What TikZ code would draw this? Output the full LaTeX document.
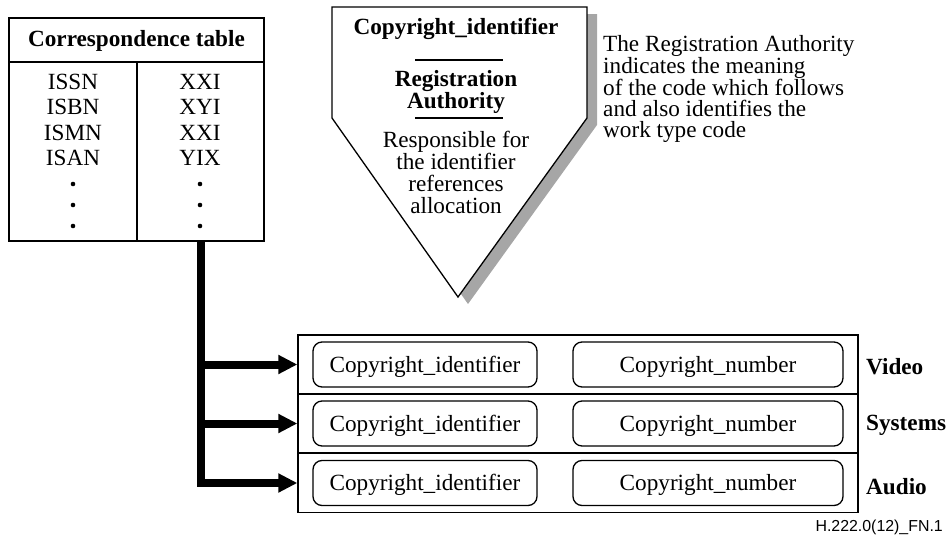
\documentclass[tikz,border=0pt]{standalone}
\usepackage{fontspec}
\setmainfont{Liberation Serif}
\newfontfamily\figsans{Liberation Sans}
\usetikzlibrary{arrows.meta,positioning}

\definecolor{shadowgray}{RGB}{166,166,166}

\tikzset{
  frame/.style={draw, line width=1.3pt},
  txt/.style={font=\fontsize{23.2}{21}\selectfont, inner sep=0pt},
  boldtxt/.style={txt, font=\fontsize{23.2}{21}\selectfont\bfseries},
  rowbox/.style={frame, minimum width=560pt, minimum height=59pt, inner sep=0pt},
  field/.style={frame, txt, rounded corners=9pt, minimum height=45pt, text height=18pt, text depth=3pt},
  bus/.style={line width=8pt, -{Triangle[length=19pt, width=18pt]}},
}

\begin{document}
\begin{tikzpicture}[x=1pt, y=-1pt]
  \useasboundingbox (0,0) rectangle (951,538);

  % correspondence table
  \draw[frame] (9,18) rectangle (264,241);
  \draw[frame] (9,62) -- (264,62);
  \draw[frame] (137,62) -- (137,241);
  \node[boldtxt] (tabhead) at (136.5,41) {Correspondence table};
  \foreach \code/\val [count=\i] in {ISSN/XXI, ISBN/XYI, ISMN/XXI, ISAN/YIX} {
    \node[txt] (code\i) at (73, 56+25.5*\i) {\code};
    \node[txt] (val\i) at (200, 56+25.5*\i) {\val};
  }
  \foreach \y in {184,205,226} {
    \fill (73,\y) circle (2.3pt);
    \fill (200,\y) circle (2.3pt);
  }
  \coordinate (tabfoot) at (201,241);

  % registration authority pentagon
  \fill[shadowgray] (342,14) -- (597,14) -- (597,125) -- (468,304) -- (342,125) -- cycle;
  \draw[frame, fill=white] (332,7) -- (587,7) -- (587,118) -- (458,297) -- (332,118) -- cycle;
  \node[boldtxt] (cid) at (456,29) {Copyright\_identifier};
  \draw[frame] (415,60) -- (503,60);
  \node[boldtxt, align=center] (regauth) at (456,92) {Registration\\Authority};
  \draw[frame] (415,118) -- (503,118);
  \node[txt, align=center, font=\fontsize{23.2}{22}\selectfont] (resp) at (456,172)
    {Responsible for\\the identifier\\references\\allocation};

  \node[txt, anchor=west, align=left] (note) at (603,89)
    {The Registration Authority\\indicates the meaning\\of the code which follows\\and also identifies the\\work type code};

  % stream rows
  \foreach \name/\y in {video/364.5, systems/423.5, audio/483} {
    \node[rowbox] (\name) at (578,\y) {};
    \node[field, minimum width=224pt] (\name id) at (425,\y) {Copyright\_identifier};
    \node[field, minimum width=270pt] (\name num) at (708,\y) {Copyright\_number};
  }
  \node[boldtxt, anchor=west] (videolbl) at (866,367) {Video};
  \node[boldtxt, anchor=west] (systemslbl) at (866,425) {Systems};
  \node[boldtxt, anchor=west] (audiolbl) at (866,487) {Audio};

  % bus to the rows
  \draw[bus] (tabfoot) |- (video.west);
  \draw[bus] (tabfoot) |- (systems.west);
  \draw[bus] (tabfoot) |- (audio.west);

  \node[anchor=east, inner sep=0pt, font=\figsans\fontsize{15.9}{18}\selectfont] (figid) at (943,527) {H.222.0(12)\_FN.1};
\end{tikzpicture}
\end{document}
